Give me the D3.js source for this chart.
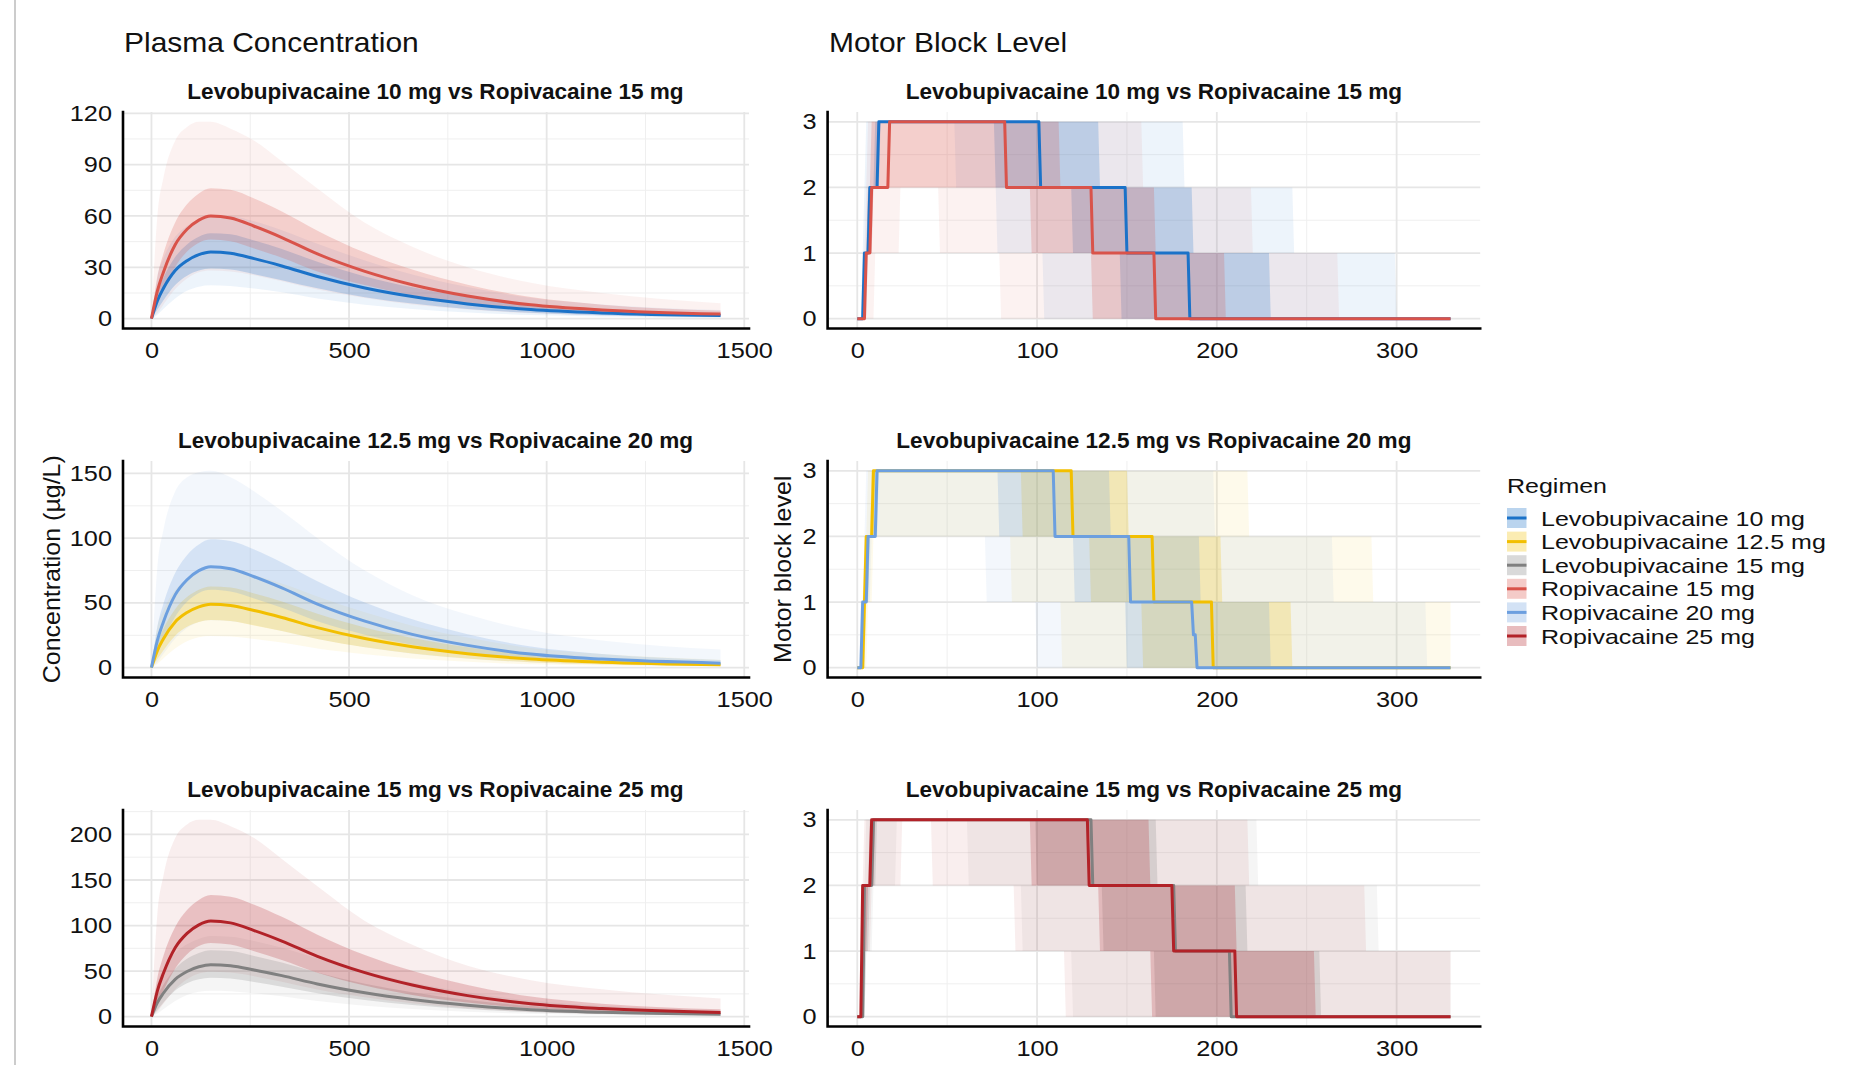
<!DOCTYPE html>
<html><head><meta charset="utf-8">
<script src="https://cdn.jsdelivr.net/npm/d3@7/dist/d3.min.js"></script>
<style>
html,body{margin:0;padding:0;background:#fff;}
svg{display:block;font-family:"Liberation Sans",Arial,Helvetica,sans-serif;}
</style></head><body>
<svg id="chart" width="1870" height="1065"></svg>
<script>
// ---------------- DATA ----------------
const regimens = ["Levobupivacaine 10 mg","Levobupivacaine 12.5 mg","Levobupivacaine 15 mg","Ropivacaine 15 mg","Ropivacaine 20 mg","Ropivacaine 25 mg"];
const regimenColors = ["#1B72C8","#F2BF00","#808080","#D9534A","#6C9FDF","#B22228"];
const panelTitles = ["Levobupivacaine 10 mg vs Ropivacaine 15 mg","Levobupivacaine 12.5 mg vs Ropivacaine 20 mg","Levobupivacaine 15 mg vs Ropivacaine 25 mg"];
const panelPairs = [[0,3],[1,4],[2,5]];

// plasma concentration (µg/L) vs time (min)
const pkTime = [0, 15, 30, 60, 90, 120, 150, 200, 260, 330, 420, 540, 660, 800, 960, 1140, 1440];

const levo10Median = [0, 10.5, 17.6, 28.1, 33.9, 37.4, 39.0, 38.2, 35.1, 30.8, 24.6, 17.9, 12.9, 8.6, 5.3, 3.3, 1.8];
const levo10Lo50   = [0, 5.3, 10.6, 19.7, 25.1, 28.1, 29.3, 28.7, 26.0, 22.5, 17.7, 12.5, 8.8, 5.7, 3.4, 2.0, 1.1];
const levo10Hi50   = [0, 15.2, 23.8, 36.0, 43.4, 47.9, 49.9, 49.3, 45.6, 40.7, 33.2, 24.7, 18.3, 12.6, 8.0, 5.1, 2.9];
const levo10Lo90   = [0, 2.3, 5.6, 11.8, 16.3, 18.7, 19.5, 19.1, 17.6, 15.4, 11.8, 8.2, 5.7, 3.6, 2.1, 1.3, 0.6];
const levo10Hi90   = [0, 25.2, 35.2, 47.8, 54.2, 58.3, 60.5, 60.0, 56.9, 51.7, 43.8, 34.0, 25.8, 18.5, 12.2, 8.3, 5.0];

const ropi15Median = [0, 16.2, 27.0, 43.2, 52.2, 57.6, 60.0, 58.8, 54.0, 47.4, 37.8, 27.6, 19.8, 13.2, 8.1, 5.1, 2.7];
const ropi15Lo50   = [0, 8.1, 16.2, 30.2, 39.2, 44.4, 46.2, 45.3, 41.0, 35.6, 27.6, 19.6, 13.7, 8.8, 5.3, 3.2, 1.6];
const ropi15Hi50   = [0, 24.3, 37.8, 56.2, 66.8, 73.2, 76.2, 75.3, 70.2, 62.6, 51.4, 38.6, 28.7, 19.8, 12.6, 8.2, 4.6];
const ropi15Lo90   = [0, 3.2, 8.1, 17.3, 23.5, 27.1, 28.2, 27.6, 25.4, 21.8, 17.0, 12.1, 8.3, 5.3, 3.1, 1.8, 0.9];
const ropi15Hi90   = [0, 60, 82, 104, 112, 115, 115, 111, 104, 92, 76, 56, 42, 30, 21, 15, 9];

const levo125Median = [0, 13.2, 22.1, 35.3, 42.6, 47.0, 49.0, 48.0, 44.1, 38.7, 30.9, 22.5, 16.2, 10.8, 6.6, 4.2, 2.2];
const levo125Lo50   = [0, 6.6, 13.3, 24.7, 31.5, 35.3, 36.8, 36.0, 32.6, 28.3, 22.2, 15.8, 11.0, 7.1, 4.2, 2.6, 1.3];
const levo125Hi50   = [0, 19.1, 29.8, 45.2, 54.5, 60.2, 62.7, 61.9, 57.3, 51.1, 41.7, 31.1, 23.0, 15.8, 9.9, 6.5, 3.5];
const levo125Lo90   = [0, 2.9, 7.1, 14.8, 20.4, 23.5, 24.5, 24.0, 22.1, 19.4, 14.8, 10.4, 7.1, 4.5, 2.6, 1.6, 0.8];
const levo125Hi90   = [0, 31.7, 44.2, 60.0, 68.2, 73.3, 76.0, 75.4, 71.4, 65.0, 55.0, 42.8, 32.4, 23.2, 15.2, 10.5, 6.2];

const ropi20Median = [0, 21.1, 35.1, 56.2, 67.9, 74.9, 78.0, 76.4, 70.2, 61.6, 49.1, 35.9, 25.7, 17.2, 10.5, 6.6, 3.5];
const ropi20Lo50   = [0, 10.6, 21.1, 39.3, 50.9, 57.7, 60.1, 58.8, 53.4, 46.2, 35.8, 25.5, 17.7, 11.5, 6.8, 4.2, 2.1];
const ropi20Hi50   = [0, 31.7, 49.1, 73.1, 86.9, 95.1, 99.1, 97.8, 91.3, 81.3, 66.8, 50.3, 37.3, 25.8, 16.3, 10.6, 6.0];
const ropi20Lo90   = [0, 4.2, 10.5, 22.5, 30.6, 35.2, 36.7, 35.9, 33.0, 28.3, 22.1, 15.8, 10.8, 6.9, 4.0, 2.4, 1.2];
const ropi20Hi90   = [0, 78, 106, 136, 147, 151, 152, 147, 136, 121, 100, 75, 56, 41, 29, 21, 14];

const levo15Median = [0, 15.4, 25.7, 41.0, 49.6, 54.7, 57.0, 55.9, 51.3, 45.0, 35.9, 26.2, 18.8, 12.5, 7.7, 4.8, 2.6];
const levo15Lo50   = [0, 7.7, 15.4, 28.7, 36.7, 41.0, 42.8, 41.9, 38.0, 32.9, 25.8, 18.3, 12.8, 8.3, 4.9, 3.0, 1.6];
const levo15Hi50   = [0, 22.3, 34.7, 52.5, 63.5, 70.0, 73.0, 72.1, 66.7, 59.4, 48.5, 36.2, 26.7, 18.3, 11.6, 7.4, 4.2];
const levo15Lo90   = [0, 3.4, 8.2, 17.2, 23.8, 27.4, 28.5, 28.0, 25.7, 22.5, 17.2, 12.1, 8.3, 5.3, 3.1, 1.8, 0.9];
const levo15Hi90   = [0, 37.0, 51.4, 69.7, 79.4, 85.3, 88.4, 87.8, 83.1, 75.6, 63.9, 49.8, 37.6, 26.9, 17.7, 12.0, 7.3];

const ropi25Median = [0, 28.4, 47.3, 75.6, 91.4, 100.8, 105.0, 102.9, 94.5, 83.0, 66.2, 48.3, 34.7, 23.1, 14.2, 8.9, 4.7];
const ropi25Lo50   = [0, 14.2, 28.4, 52.9, 68.6, 77.6, 80.9, 79.2, 71.8, 62.3, 48.3, 34.3, 23.9, 15.5, 9.2, 5.6, 2.8];
const ropi25Hi50   = [0, 42.6, 66.2, 98.3, 117.0, 128.0, 133.4, 131.7, 122.9, 109.6, 90.0, 67.6, 50.3, 34.7, 22.0, 14.2, 8.0];
const ropi25Lo90   = [0, 5.7, 14.2, 30.2, 41.1, 47.4, 49.4, 48.4, 44.4, 38.2, 29.8, 21.3, 14.6, 9.2, 5.4, 3.2, 1.6];
const ropi25Hi90   = [0, 113, 154, 196, 211, 216, 216, 209, 196, 173, 143, 105, 79, 56, 40, 30, 20];

// motor block level: [time of change (min), new level]
const levo10BlockQ05 = [[0,0],[6,1],[9,2],[12,3],[55,2],[78,1],[104,0]];
const levo10BlockQ25 = [[0,0],[5,1],[8,2],[13,3],[77,2],[120,1],[147,0]];
const levo10BlockQ50 = [[0,0],[4,1],[6.5,2],[11.5,3],[102,2],[149.5,1],[185,0]];
const levo10BlockQ75 = [[0,0],[3.5,1],[5.5,2],[10,3],[135,2],[187,1],[230,0]];
const levo10BlockQ95 = [[0,0],[2.5,1],[4,2],[5,3],[182,2],[243,1],[300,0]];

const ropi15BlockQ05 = [[0,0],[10,1],[24,2],[46,1],[80,0]];
const ropi15BlockQ25 = [[0,0],[5,1],[9,2],[97,1],[131,0]];
const ropi15BlockQ50 = [[0,0],[4.5,1],[7.5,2],[18,3],[83,2],[131,1],[165.5,0]];
const ropi15BlockQ75 = [[0,0],[3.5,1],[6,2],[8,3],[113,2],[166,1],[205,0]];
const ropi15BlockQ95 = [[0,0],[3,1],[5,2],[6,3],[159,2],[220,1],[268,0]];

const levo125BlockQ05 = [[0,0],[6,1],[9,2],[86,1],[114,0]];
const levo125BlockQ25 = [[0,0],[4.5,1],[6.5,2],[10,3],[92,2],[130,1],[159,0]];
const levo125BlockQ50 = [[0,0],[3.5,1],[5,2],[8.5,3],[120,2],[164.5,1],[198,0]];
const levo125BlockQ75 = [[0,0],[3,1],[4.5,2],[7.5,3],[151,2],[203,1],[242,0]];
const levo125BlockQ95 = [[0,0],[2.5,1],[4,2],[6,3],[218,2],[287,1]];

const ropi20BlockQ05 = [[0,0],[5,1],[8,2],[72,1],[100,0]];
const ropi20BlockQ25 = [[0,0],[4,1],[7,2],[12,3],[79,2],[121,1],[150,0]];
const ropi20BlockQ50 = [[0,0],[3,1],[5.5,2],[10.5,3],[110,2],[152,1],[187,0.5],[189,0]];
const ropi20BlockQ75 = [[0,0],[2.5,1],[4.5,2],[9,3],[141,2],[191,1],[230,0]];
const ropi20BlockQ95 = [[0,0],[2,1],[3.5,2],[5,3],[199,2],[265,1],[317,0]];

const levo15BlockQ05 = [[0,0],[5,1],[9,2],[22,3],[62,2],[92,1],[120,0]];
const levo15BlockQ25 = [[0,0],[4.5,1],[6.5,2],[10.5,3],[100,2],[137,1],[166,0]];
const levo15BlockQ50 = [[0,0],[3.5,2],[8.5,3],[131,2],[176.5,1],[208,0]];
const levo15BlockQ75 = [[0,0],[3,1],[4,2],[7.5,3],[167,2],[217,1],[258,0]];
const levo15BlockQ95 = [[0,0],[2.5,1],[3.5,2],[4.5,3],[223,2],[290,1]];

const ropi25BlockQ05 = [[0,0],[4,1],[8,2],[25,3],[42,2],[88,1],[116,0]];
const ropi25BlockQ25 = [[0,0],[4,1],[6,2],[10,3],[97,2],[135,1],[164,0]];
const ropi25BlockQ50 = [[0,0],[3,2],[8,3],[129,2],[176,1],[210.5,0]];
const ropi25BlockQ75 = [[0,0],[2.5,1],[3.5,2],[7,3],[163,2],[211,1],[255,0]];
const ropi25BlockQ95 = [[0,0],[2,1],[3,2],[4,3],[218,2],[283,1]];

const blockTimeEnd = 330;

// tick labels
const concTicks = [[0,30,60,90,120],[0,50,100,150],[0,50,100,150,200]];
const pkTimeTicks = [0,500,1000,1500];
const blockTicks = [0,1,2,3];
const blockTimeTicks = [0,100,200,300];

// ---------------- ASSEMBLY ----------------
const pkSeries = [
  {median:levo10Median, lo50:levo10Lo50, hi50:levo10Hi50, lo90:levo10Lo90, hi90:levo10Hi90},
  {median:levo125Median, lo50:levo125Lo50, hi50:levo125Hi50, lo90:levo125Lo90, hi90:levo125Hi90},
  {median:levo15Median, lo50:levo15Lo50, hi50:levo15Hi50, lo90:levo15Lo90, hi90:levo15Hi90},
  {median:ropi15Median, lo50:ropi15Lo50, hi50:ropi15Hi50, lo90:ropi15Lo90, hi90:ropi15Hi90},
  {median:ropi20Median, lo50:ropi20Lo50, hi50:ropi20Hi50, lo90:ropi20Lo90, hi90:ropi20Hi90},
  {median:ropi25Median, lo50:ropi25Lo50, hi50:ropi25Hi50, lo90:ropi25Lo90, hi90:ropi25Hi90}
];
const blockSeries = [
  {q05:levo10BlockQ05, q25:levo10BlockQ25, q50:levo10BlockQ50, q75:levo10BlockQ75, q95:levo10BlockQ95},
  {q05:levo125BlockQ05, q25:levo125BlockQ25, q50:levo125BlockQ50, q75:levo125BlockQ75, q95:levo125BlockQ95},
  {q05:levo15BlockQ05, q25:levo15BlockQ25, q50:levo15BlockQ50, q75:levo15BlockQ75, q95:levo15BlockQ95},
  {q05:ropi15BlockQ05, q25:ropi15BlockQ25, q50:ropi15BlockQ50, q75:ropi15BlockQ75, q95:ropi15BlockQ95},
  {q05:ropi20BlockQ05, q25:ropi20BlockQ25, q50:ropi20BlockQ50, q75:ropi20BlockQ75, q95:ropi20BlockQ95},
  {q05:ropi25BlockQ05, q25:ropi25BlockQ25, q50:ropi25BlockQ50, q75:ropi25BlockQ75, q95:ropi25BlockQ95}
];

// ---------------- LAYOUT / STYLE ----------------
const W = 1870, H = 1065;
const leftX0 = 123, leftX1 = 749, rightX0 = 827.6, rightX1 = 1480.2;
const rowTop = [112, 461, 810], panelH = 216.5;
const innerAlpha = 0.22, outerAlpha = 0.08, lineW = 3;
const gridMajor = "#e6e6e6", gridMinor = "#efefef";

const svg = d3.select("#chart");
svg.append("rect").attr("width", W).attr("height", H).attr("fill", "#fff");
svg.append("line").attr("x1", 15).attr("x2", 15).attr("y1", 0).attr("y2", H)
  .attr("stroke", "#cccccc").attr("stroke-width", 2);

function stretch(sel, k) {
  sel.each(function () {
    const L = this.getComputedTextLength();
    if (L > 0) { this.setAttribute("textLength", L * k); this.setAttribute("lengthAdjust", "spacingAndGlyphs"); }
  });
}
function minorOf(ticks, dom) {
  const out = [];
  for (let i = 0; i < ticks.length - 1; i++) out.push((ticks[i] + ticks[i + 1]) / 2);
  const step = ticks[1] - ticks[0];
  out.push(ticks[ticks.length - 1] + step / 2);
  out.unshift(ticks[0] - step / 2);
  return out.filter(v => v >= dom[0] && v <= dom[1]);
}

function drawFrame(g, x, y, xt, yt, x0, x1, top, bottom) {
  const xd = x.domain(), yd = y.domain();
  const grid = g.append("g");
  grid.selectAll(".ymin").data(minorOf(yt, yd)).join("line")
    .attr("x1", x0).attr("x2", x1).attr("y1", d => y(d)).attr("y2", d => y(d))
    .attr("stroke", gridMinor).attr("stroke-width", 1);
  grid.selectAll(".xmin").data(minorOf(xt, xd)).join("line")
    .attr("y1", top).attr("y2", bottom).attr("x1", d => x(d)).attr("x2", d => x(d))
    .attr("stroke", gridMinor).attr("stroke-width", 1);
  grid.selectAll(".ymaj").data(yt.filter(v => v >= yd[0] && v <= yd[1])).join("line")
    .attr("x1", x0).attr("x2", x1).attr("y1", d => y(d)).attr("y2", d => y(d))
    .attr("stroke", gridMajor).attr("stroke-width", 1.8);
  grid.selectAll(".xmaj").data(xt.filter(v => v >= xd[0] && v <= xd[1])).join("line")
    .attr("y1", top).attr("y2", bottom).attr("x1", d => x(d)).attr("x2", d => x(d))
    .attr("stroke", gridMajor).attr("stroke-width", 1.8);
}
function drawAxes(g, x, y, xt, yt, x0, x1, top, bottom) {
  const ya = g.append("g").attr("transform", `translate(${x0},0)`)
    .call(d3.axisLeft(y).tickValues(yt).tickSize(0).tickPadding(11).tickFormat(d3.format("d")));
  ya.select(".domain").remove();
  ya.selectAll("text").attr("font-size", 22).attr("fill", "#111").attr("font-family", "Liberation Sans, Arial, sans-serif");
  stretch(ya.selectAll("text"), 1.15);
  const xa = g.append("g").attr("transform", `translate(0,${bottom})`)
    .call(d3.axisBottom(x).tickValues(xt).tickSize(0).tickPadding(14).tickFormat(d3.format("d")));
  xa.select(".domain").remove();
  xa.selectAll("text").attr("font-size", 22).attr("fill", "#111").attr("font-family", "Liberation Sans, Arial, sans-serif");
  stretch(xa.selectAll("text"), 1.15);
  g.append("path").attr("d", `M${x0},${top}V${bottom}H${x1}`)
    .attr("fill", "none").attr("stroke", "#000").attr("stroke-width", 2.6).attr("stroke-linecap", "square");
}
function panelTitle(text, cx, top) {
  const t = svg.append("text").attr("x", cx).attr("y", top - 13).attr("text-anchor", "middle")
    .attr("font-size", 22).attr("font-weight", "bold").attr("fill", "#111").text(text);
  stretch(t, 1.025);
}

// ----- PK panels -----
panelPairs.forEach((pair, row) => {
  const top = rowTop[row], bottom = top + panelH;
  const tExt = d3.extent(pkTime), tPad = (tExt[1] - tExt[0]) * 0.05;
  const x = d3.scaleLinear().domain([tExt[0] - tPad, tExt[1] + tPad]).range([leftX0, leftX1]);
  const ymax = d3.max(pair, i => d3.max(pkSeries[i].hi90));
  const y = d3.scaleLinear().domain([-0.05 * ymax, 1.05 * ymax]).range([bottom, top]);
  const g = svg.append("g");
  drawFrame(g, x, y, pkTimeTicks, concTicks[row], leftX0, leftX1, top, bottom);
  const band = (lo, hi) => d3.area().curve(d3.curveMonotoneX)
    .x((d, i) => x(pkTime[i])).y0((d, i) => y(lo[i])).y1((d, i) => y(hi[i]));
  pair.forEach(i => {
    const s = pkSeries[i];
    g.append("path").attr("d", band(s.lo90, s.hi90)(pkTime)).attr("fill", regimenColors[i]).attr("fill-opacity", outerAlpha);
  });
  pair.forEach(i => {
    const s = pkSeries[i];
    g.append("path").attr("d", band(s.lo50, s.hi50)(pkTime)).attr("fill", regimenColors[i]).attr("fill-opacity", innerAlpha);
  });
  pair.forEach(i => {
    const s = pkSeries[i];
    const line = d3.line().curve(d3.curveMonotoneX).x((d, k) => x(pkTime[k])).y(d => y(d));
    g.append("path").attr("d", line(s.median)).attr("fill", "none")
      .attr("stroke", regimenColors[i]).attr("stroke-width", lineW).attr("stroke-linejoin", "round");
  });
  drawAxes(g, x, y, pkTimeTicks, concTicks[row], leftX0, leftX1, top, bottom);
  panelTitle(panelTitles[row], 435.5, top);
});

// ----- Motor block panels -----
function levelAt(steps, t) {
  let v = steps[0][1];
  for (const s of steps) if (s[0] <= t) v = s[1];
  return v;
}
const blockGrid = d3.range(0, blockTimeEnd + 1, 1);
panelPairs.forEach((pair, row) => {
  const top = rowTop[row], bottom = top + panelH;
  const tPad = blockTimeEnd * 0.05;
  const x = d3.scaleLinear().domain([0 - tPad, blockTimeEnd + tPad]).range([rightX0, rightX1]);
  const lvl = d3.extent(blockTicks), lPad = (lvl[1] - lvl[0]) * 0.05;
  const y = d3.scaleLinear().domain([lvl[0] - lPad, lvl[1] + lPad]).range([bottom, top]);
  const g = svg.append("g");
  drawFrame(g, x, y, blockTimeTicks, blockTicks, rightX0, rightX1, top, bottom);
  const band = (lo, hi) => d3.area().x(t => x(t)).y0(t => y(levelAt(lo, t))).y1(t => y(levelAt(hi, t)));
  pair.forEach(i => {
    const s = blockSeries[i];
    g.append("path").attr("d", band(s.q05, s.q95)(blockGrid)).attr("fill", regimenColors[i]).attr("fill-opacity", outerAlpha);
  });
  pair.forEach(i => {
    const s = blockSeries[i];
    g.append("path").attr("d", band(s.q25, s.q75)(blockGrid)).attr("fill", regimenColors[i]).attr("fill-opacity", innerAlpha);
  });
  pair.forEach(i => {
    const s = blockSeries[i];
    const line = d3.line().x(t => x(t)).y(t => y(levelAt(s.q50, t)));
    g.append("path").attr("d", line(blockGrid)).attr("fill", "none")
      .attr("stroke", regimenColors[i]).attr("stroke-width", lineW).attr("stroke-linejoin", "round");
  });
  drawAxes(g, x, y, blockTimeTicks, blockTicks, rightX0, rightX1, top, bottom);
  panelTitle(panelTitles[row], (rightX0 + rightX1) / 2, top);
});

// ----- Column titles & axis titles -----
stretch(svg.append("text").attr("x", 124).attr("y", 51.7).attr("font-size", 28).attr("fill", "#111").text("Plasma Concentration"), 1.07);
stretch(svg.append("text").attr("x", 829).attr("y", 51.7).attr("font-size", 28).attr("fill", "#111").text("Motor Block Level"), 1.07);
const midY = rowTop[1] + panelH / 2;
stretch(svg.append("text").attr("transform", `translate(59.5,${midY}) rotate(-90)`).attr("text-anchor", "middle")
  .attr("font-size", 24).attr("fill", "#111").text("Concentration (µg/L)"), 1.04);
stretch(svg.append("text").attr("transform", `translate(791,${midY}) rotate(-90)`).attr("text-anchor", "middle")
  .attr("font-size", 24).attr("fill", "#111").text("Motor block level"), 1.04);

// ----- Legend -----
const lg = svg.append("g").attr("transform", "translate(1507,0)");
stretch(lg.append("text").attr("x", 0).attr("y", 492.7).attr("font-size", 21).attr("fill", "#111").text("Regimen"), 1.19);
const keyTop = 508, keyStep = 23.6, keyW = 19.5, keyH = 20;
const items = lg.selectAll(".item").data(regimens).join("g")
  .attr("transform", (d, i) => `translate(0,${keyTop + i * keyStep})`);
items.append("rect").attr("width", keyW).attr("height", keyH)
  .attr("fill", (d, i) => regimenColors[i]).attr("fill-opacity", 0.3);
items.append("line").attr("x1", 0).attr("x2", keyW).attr("y1", keyH / 2).attr("y2", keyH / 2)
  .attr("stroke", (d, i) => regimenColors[i]).attr("stroke-width", lineW);
const labels = items.append("text").attr("x", 34).attr("y", keyH / 2 + 7.5)
  .attr("font-size", 21).attr("fill", "#111").text(d => d);
stretch(labels, 1.19);
</script></body></html>
